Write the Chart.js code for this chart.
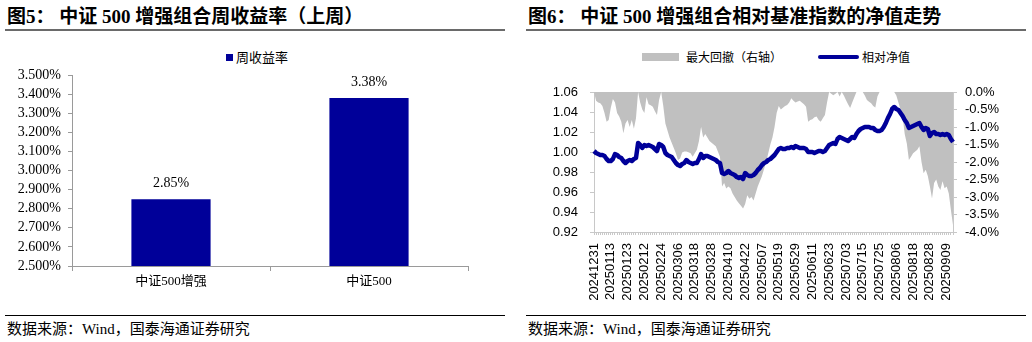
<!DOCTYPE html>
<html><head><meta charset="utf-8">
<script src="https://cdn.jsdelivr.net/npm/chart.js@4.4.1/dist/chart.umd.min.js"></script>
<style>
body{margin:0;background:#fff;width:1032px;height:342px;overflow:hidden;position:relative;font-family:"Liberation Serif","Noto Sans CJK SC",serif;color:#000;}
.title{position:absolute;top:5px;font-weight:bold;font-size:19px;line-height:24px;white-space:nowrap;}
.rule{position:absolute;height:0;}
.src{position:absolute;top:319px;font-size:15px;line-height:20px;white-space:nowrap;}
canvas{position:absolute;}
.leg{position:absolute;font-family:"Noto Sans CJK SC",sans-serif;white-space:nowrap;}
.sw{position:absolute;}
</style></head>
<body>
<div class="title" style="left:7px">图5：&nbsp;中证 500 增强组合周收益率（上周）</div>
<div class="rule" style="left:5px;width:500px;top:29px;border-top:2px solid #6a6a6a"></div>
<div class="title" style="left:528px">图6：&nbsp;中证 500 增强组合相对基准指数的净值走势</div>
<div class="rule" style="left:526px;width:500px;top:29px;border-top:2px solid #6a6a6a"></div>

<div class="sw" style="left:226px;top:54px;width:7px;height:7px;background:#000099"></div>
<div class="leg" style="left:236px;top:48px;font-size:13px;line-height:18px">周收益率</div>

<div class="sw" style="left:642px;top:53px;width:37px;height:8px;background:#c0c0c0"></div>
<div class="leg" style="left:686px;top:48px;font-size:12px;line-height:18px">最大回撤（右轴）</div>
<div class="sw" style="left:818px;top:55px;width:41px;height:4px;background:#000099;border-radius:2px"></div>
<div class="leg" style="left:862px;top:48px;font-size:12px;line-height:18px">相对净值</div>

<canvas id="c1" width="516" height="230" style="left:0;top:66px;width:516px;height:230px"></canvas>
<canvas id="c2" width="500" height="230" style="left:527px;top:84px;width:500px;height:230px"></canvas>

<div class="rule" style="left:5px;width:500px;top:315px;border-top:1px solid #000"></div>
<div class="src" style="left:7px">数据来源：Wind，国泰海通证券研究</div>
<div class="rule" style="left:526px;width:500px;top:315px;border-top:1px solid #000"></div>
<div class="src" style="left:528px">数据来源：Wind，国泰海通证券研究</div>

<script>
// ---- Figure 5: weekly return ----
const barCategories = ['中证500增强', '中证500'];
const barValues = [2.85, 3.38];
const barSeriesName = '周收益率';

// ---- Figure 6: relative net value & max drawdown ----
const dates = [
 '20241231',
 '20250102','20250103','20250106','20250107','20250108','20250109','20250110','20250113','20250114','20250115',
 '20250116','20250117','20250120','20250121','20250122','20250123','20250124','20250127',
 '20250205','20250206','20250207','20250210','20250211','20250212','20250213','20250214','20250217','20250218',
 '20250219','20250220','20250221','20250224','20250225','20250226','20250227','20250228',
 '20250303','20250304','20250305','20250306','20250307','20250310','20250311','20250312','20250313','20250314',
 '20250317','20250318','20250319','20250320','20250321','20250324','20250325','20250326','20250327','20250328','20250331',
 '20250401','20250402','20250403','20250407','20250408','20250409','20250410','20250411','20250414','20250415',
 '20250416','20250417','20250418','20250421','20250422','20250423','20250424','20250425','20250428','20250429','20250430',
 '20250506','20250507','20250508','20250509','20250512','20250513','20250514','20250515','20250516','20250519',
 '20250520','20250521','20250522','20250523','20250526','20250527','20250528','20250529','20250530',
 '20250603','20250604','20250605','20250606','20250609','20250610','20250611','20250612','20250613','20250616',
 '20250617','20250618','20250619','20250620','20250623','20250624','20250625','20250626','20250627','20250630',
 '20250701','20250702','20250703','20250704','20250707','20250708','20250709','20250710','20250711','20250714',
 '20250715','20250716','20250717','20250718','20250721','20250722','20250723','20250724','20250725','20250728',
 '20250729','20250730','20250731',
 '20250801','20250804','20250805','20250806','20250807','20250808','20250811','20250812','20250813','20250814',
 '20250815','20250818','20250819','20250820','20250821','20250822','20250825','20250826','20250827','20250828','20250829',
 '20250901','20250902','20250903','20250904','20250905','20250908','20250909','20250910','20250911','20250912'
];
const netValue = [
 1.001,0.999,0.998,0.997,0.997,0.996,0.993,0.991,0.991,0.993,
 0.998,0.997,0.995,0.994,0.991,0.989,0.991,0.992,0.991,0.993,
 0.994,1.009,1.007,1.004,1.007,1.006,1.007,1.006,1.005,1.003,
 1.001,1.008,1.007,1.005,0.999,0.997,0.996,0.995,0.992,0.989,
 0.987,0.986,0.988,0.989,0.992,0.990,0.989,0.988,0.989,0.989,
 0.993,0.998,0.994,0.996,0.996,0.995,0.994,0.993,0.992,0.990,
 0.989,0.979,0.978,0.979,0.981,0.979,0.978,0.977,0.975,0.974,
 0.975,0.973,0.979,0.977,0.976,0.976,0.977,0.979,0.982,0.984,
 0.987,0.989,0.990,0.992,0.993,0.995,0.997,1.000,1.003,1.004,
 1.003,1.003,1.004,1.004,1.005,1.004,1.006,1.005,1.004,1.004,
 1.004,1.003,1.000,1.000,1.000,0.999,1.000,1.001,1.001,1.000,
 1.001,1.004,1.007,1.008,1.009,1.008,1.013,1.015,1.014,1.013,
 1.012,1.011,1.013,1.015,1.014,1.018,1.021,1.023,1.024,1.025,
 1.025,1.025,1.024,1.024,1.022,1.021,1.021,1.022,1.025,1.029,
 1.034,1.038,1.043,1.045,1.043,1.042,1.039,1.036,1.032,1.029,
 1.024,1.025,1.026,1.027,1.028,1.029,1.025,1.022,1.024,1.023,
 1.016,1.019,1.020,1.018,1.018,1.017,1.018,1.017,1.018,1.017,
 1.013,1.010
];
const drawdown = [
 0,-0.25,-0.3,-0.32,-0.4,-0.6,-0.85,-0.8,-0.45,-0.2,
 -0.3,-0.6,-0.7,-0.85,-1.18,-0.9,-0.8,-1.0,-0.8,-1.05,
 -0.75,0,-0.3,-0.5,-0.6,-0.15,-0.35,-0.38,-0.42,-0.55,
 -0.66,-0.23,0,-0.4,-0.9,-1.1,-1.3,-1.45,-1.6,-1.75,
 -1.94,-1.9,-1.73,-1.7,-1.7,-1.72,-1.75,-1.85,-1.75,-1.65,
 -1.4,-0.99,-1.3,-1.2,-1.3,-1.4,-1.45,-1.5,-1.55,-1.7,
 -1.85,-2.7,-2.6,-2.76,-2.7,-2.75,-2.9,-3.0,-3.1,-3.18,
 -3.25,-3.33,-3.2,-2.95,-3.05,-3.0,-3.1,-2.9,-2.7,-2.55,
 -2.4,-2.2,-2.0,-1.75,-1.5,-1.3,-1.0,-0.6,-0.4,-0.5,
 -0.45,-0.4,-0.37,-0.3,-0.18,-0.25,-0.3,-0.27,-0.25,-0.3,
 -0.35,-0.42,-0.85,-0.8,-0.78,-0.72,-0.7,-0.8,-0.85,-0.75,
 -0.66,-0.3,0,-0.05,-0.09,-0.05,0,-0.13,0,-0.1,
 -0.23,-0.35,-0.46,-0.3,-0.15,0,0,0,0,-0.1,
 -0.23,-0.28,-0.32,-0.4,-0.44,-0.13,0,0,0,0,
 0,0,0,0,-0.1,-0.3,-0.5,-0.7,-1.2,-1.47,
 -1.94,-1.85,-1.75,-1.7,-1.65,-1.55,-2.0,-2.32,-2.22,-2.4,
 -2.7,-3.04,-2.6,-2.5,-2.7,-2.8,-2.55,-2.75,-2.7,-2.9,
 -3.37,-3.8
];
const seriesNames = ['最大回撤（右轴）', '相对净值'];
const labelEvery = 8;

const serifFont = '"Liberation Serif","Noto Sans CJK SC",serif';
const sansFont = '"Liberation Sans","Noto Sans CJK SC",sans-serif';

function fixV(width) {
  return function (s) { s.width = width; s.paddingTop = 0; s.paddingBottom = 0; };
}

const valueLabels = {
  id: 'valueLabels',
  afterDatasetsDraw(chart) {
    const ctx = chart.ctx;
    chart.getDatasetMeta(0).data.forEach((bar, i) => {
      ctx.save();
      ctx.font = '14px ' + serifFont;
      ctx.fillStyle = '#000';
      ctx.textAlign = 'center';
      ctx.textBaseline = 'middle';
      ctx.fillText(barValues[i].toFixed(2) + '%', bar.x, bar.y - 16);
      ctx.restore();
    });
  }
};

new Chart(document.getElementById('c1'), {
  type: 'bar',
  data: {
    labels: barCategories,
    datasets: [{
      label: barSeriesName, data: barValues, backgroundColor: '#000099',
      barPercentage: 0.4, categoryPercentage: 1.0
    }]
  },
  options: {
    responsive: false, animation: false,
    layout: { padding: { top: 9, right: 48, left: 0, bottom: 0 } },
    plugins: { legend: { display: false }, tooltip: { enabled: false } },
    scales: {
      x: {
        grid: { drawOnChartArea: false, tickLength: 5, color: '#9a9a9a', offset: true },
        border: { color: '#9a9a9a' },
        ticks: { color: '#000', font: { family: serifFont, size: 13 }, padding: 3 },
        afterFit(s) { s.height = 30; s.paddingLeft = 0; s.paddingRight = 0; }
      },
      y: {
        min: 2.5, max: 3.5,
        grid: { drawOnChartArea: false, tickLength: 4, color: '#9a9a9a' },
        border: { color: '#9a9a9a' },
        ticks: { stepSize: 0.1, autoSkip: false, color: '#000', font: { family: serifFont, size: 14 }, padding: 7,
                 callback: v => v.toFixed(3) + '%' },
        afterFit: fixV(72)
      }
    }
  },
  plugins: [valueLabels]
});

new Chart(document.getElementById('c2'), {
  type: 'line',
  data: {
    labels: dates,
    datasets: [
      { label: seriesNames[1], data: netValue, yAxisID: 'y', borderColor: '#000099', borderWidth: 4.5,
        pointRadius: 0, fill: false, tension: 0, order: 0, borderJoinStyle: 'round' },
      { label: seriesNames[0], data: drawdown, yAxisID: 'y1', borderWidth: 0, borderColor: 'rgba(0,0,0,0)',
        backgroundColor: '#c0c0c0', pointRadius: 0, fill: { value: 0 }, tension: 0, order: 1 }
    ]
  },
  options: {
    responsive: false, animation: false,
    layout: { padding: { top: 8, right: 0, left: 0, bottom: 0 } },
    plugins: { legend: { display: false }, tooltip: { enabled: false } },
    scales: {
      x: {
        offset: false,
        grid: { drawOnChartArea: false, tickLength: 3, color: '#c8c8c8', offset: false },
        border: { color: '#c8c8c8' },
        ticks: { autoSkip: false, minRotation: 90, maxRotation: 90, color: '#000', padding: 8,
                 font: { family: sansFont, size: 13 },
                 callback(v, i) { return i % labelEvery === 0 ? dates[i] : ''; } },
        afterFit(s) { s.height = 82; s.paddingLeft = 0; s.paddingRight = 0; }
      },
      y: {
        position: 'left', min: 0.92, max: 1.06,
        grid: { drawOnChartArea: false, tickLength: 4, color: '#c8c8c8' },
        border: { color: '#c8c8c8' },
        ticks: { stepSize: 0.02, autoSkip: false, color: '#000', padding: 12, font: { family: sansFont, size: 13 },
                 callback: v => v.toFixed(2) },
        afterFit: fixV(67)
      },
      y1: {
        position: 'right', min: -4, max: 0,
        grid: { drawOnChartArea: false, tickLength: 4, color: '#c8c8c8' },
        border: { color: '#c8c8c8' },
        ticks: { stepSize: 0.5, autoSkip: false, color: '#000', padding: 8, font: { family: sansFont, size: 13 },
                 callback: v => v.toFixed(1) + '%' },
        afterFit: fixV(74)
      }
    }
  }
});
</script>
</body></html>
